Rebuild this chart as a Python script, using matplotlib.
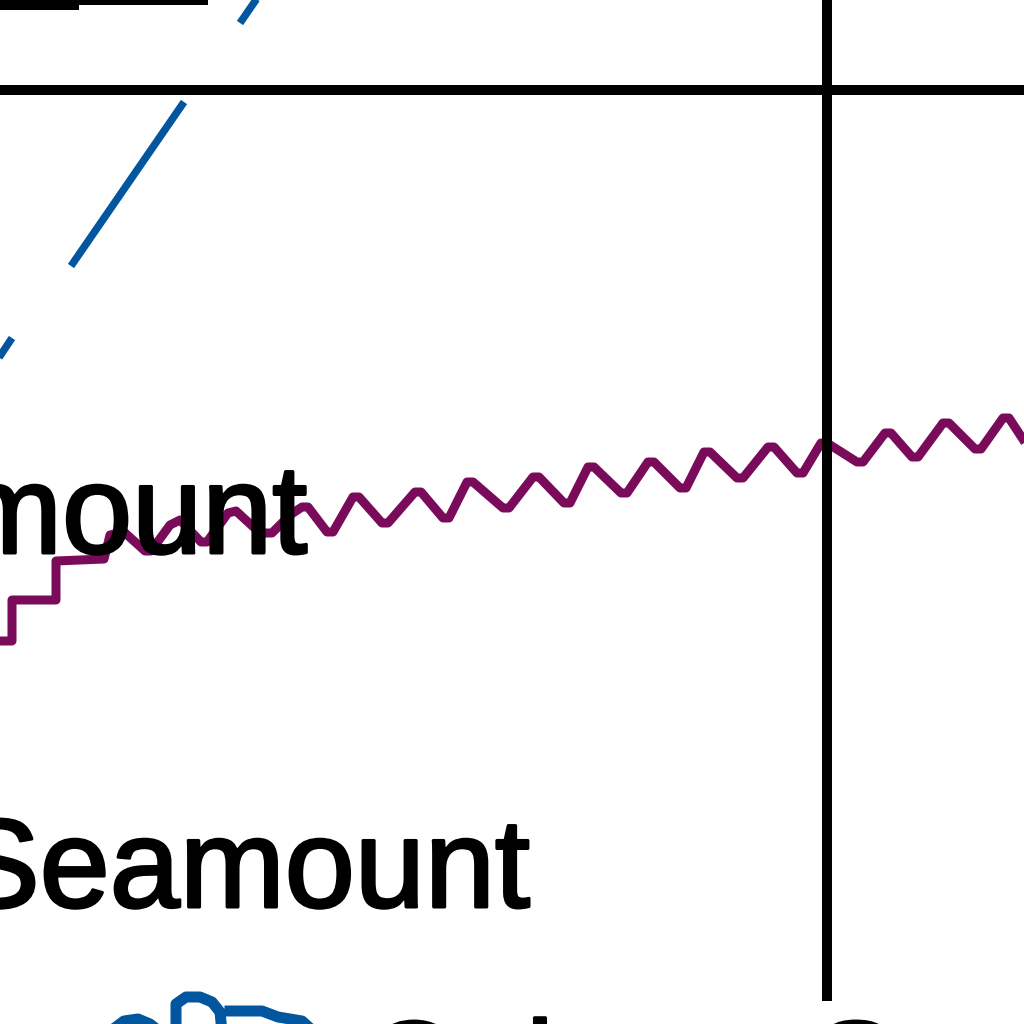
import numpy as np
import matplotlib
matplotlib.use("Agg")
import matplotlib.pyplot as plt
import matplotlib.patheffects as pe

# map crop, pixel coordinates (y grows downward)
grid_h_y = 90
grid_v_x = 827
grid_v_end = 1001

# black bar along the top edge (x start, x end, thickness px)
topbar_x0 = [0, 79]
topbar_x1 = [79, 208]
topbar_w = [20, 10]

# blue dashed track, visible pieces separated by nan
blue_x = [-6, 12, np.nan, 71, 184, np.nan, 240, 260]
blue_y = [365, 338, np.nan, 266, 102, np.nan, 23, -6]

# blue wiggle at the bottom edge
bwave_x = [112, 124, 138, 150, 160, np.nan, 176, 176, 186, 200, 212, 220, 222, np.nan,
           230, 262, 278, 302, 312]
bwave_y = [1030, 1021, 1019, 1024, 1032, np.nan, 1032, 1004, 997, 997, 1002, 1012, 1032, np.nan,
           1011, 1011, 1017, 1021, 1030]

# purple wavy track
purple_x = [-6, 12, 12, 56, 56, 104, 110, 124, 145, 151, 170, 180, 201, 207, 228, 236,
            260, 272, 290, 302, 308, 327, 333, 353, 359, 382, 388, 415, 421, 443, 449,
            467, 473, 503, 509, 533, 539, 564, 570, 588, 594, 621, 627, 648, 654, 680,
            686, 704, 710, 737, 743, 768, 774, 797, 803, 821, 827, 857, 863, 885, 891,
            912, 918, 943, 949, 975, 981, 1003, 1009, 1030]
purple_y = [641, 641, 600, 600, 561, 559, 535, 532, 551, 551, 525, 520, 542, 542, 513, 511,
            533, 533, 515, 507, 507, 532, 532, 497, 497, 523, 523, 492, 492, 518, 518,
            482, 482, 508, 508, 477, 477, 503, 503, 467, 467, 493, 493, 462, 462, 488,
            488, 452, 452, 478, 478, 447, 447, 473, 473, 443, 443, 462, 462, 433, 433,
            457, 457, 423, 423, 449, 449, 418, 418, 450]

# labels: text, anchor x, horizontal alignment, baseline y
labels = ["Gumdrop Seamount", "Pioneer Seamount", "Osborn Seamount"]
label_x = [307, 530, 365]
label_ha = ["right", "right", "left"]
label_y = [553, 907, 1109]

blue = "#02569f"
purple = "#7a0b5a"
px = 0.72  # points per pixel at dpi 100

fig = plt.figure(figsize=(10.24, 10.24), dpi=100)
ax = fig.add_axes([0, 0, 1, 1])
ax.set_xlim(0, 1024)
ax.set_ylim(1024, 0)
ax.axis("off")

ax.plot(purple_x, purple_y, color=purple, lw=9 * px, solid_joinstyle="round",
        solid_capstyle="butt", zorder=2)
ax.plot(blue_x, blue_y, color=blue, lw=7.5 * px, solid_capstyle="butt", zorder=2)
ax.plot(bwave_x, bwave_y, color=blue, lw=11 * px, solid_joinstyle="round", zorder=2)

for x0, x1, w in zip(topbar_x0, topbar_x1, topbar_w):
    ax.plot([x0, x1], [0, 0], color="black", lw=w * px, solid_capstyle="butt", zorder=3)
ax.plot([0, 1024], [grid_h_y, grid_h_y], color="black", lw=10 * px,
        solid_capstyle="butt", zorder=3)
ax.plot([grid_v_x, grid_v_x], [-10, grid_v_end], color="black", lw=10 * px,
        solid_capstyle="butt", zorder=3)

# rasterised map labels look heavier than the plain font, so thicken a little
thick = [pe.withStroke(linewidth=3 * px, foreground="black")]
for txt, x, ha, yb in zip(labels, label_x, label_ha, label_y):
    ax.text(x, yb, txt, ha=ha, va="baseline", fontsize=90.7,
            family="Liberation Sans", color="black", zorder=4, path_effects=thick)

fig.savefig("out.png", dpi=100)
